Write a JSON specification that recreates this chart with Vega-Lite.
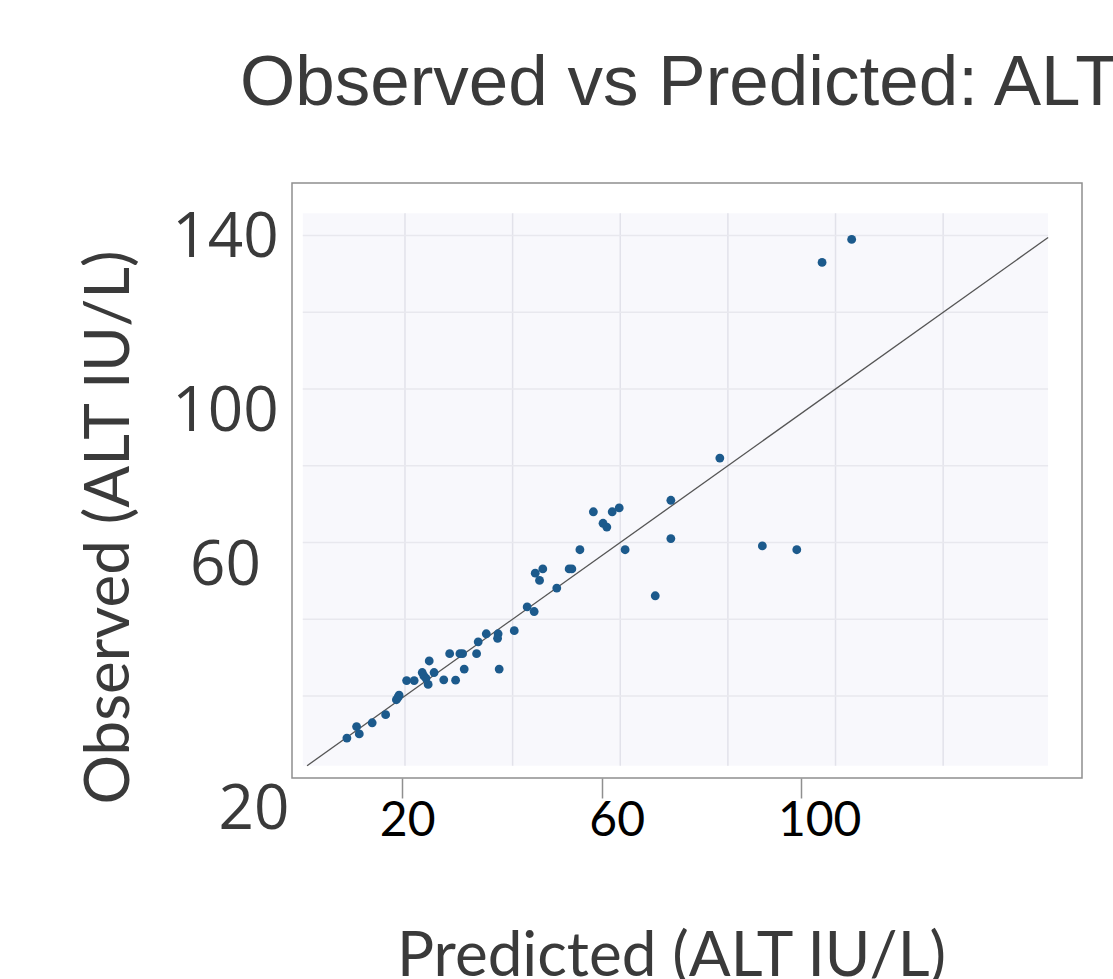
{
  "$schema": "https://vega.github.io/schema/vega-lite/v6.json",
  "width": 790,
  "height": 595,
  "autosize": {"type": "none"},
  "padding": {"left": 292, "top": 183, "right": 31, "bottom": 201},
  "background": "white",
  "config": {"view": {"stroke": "#8f8f8f", "strokeWidth": 1.5, "fill": "white"}},
  "title": {
    "text": "Observed vs Predicted: ALT",
    "anchor": "start",
    "frame": "group",
    "dx": -52,
    "font": "Liberation Sans",
    "fontSize": 71,
    "fontWeight": "normal",
    "color": "#3a3a3a",
    "baseline": "alphabetic",
    "offset": 7
  },
  "layer": [
    {
      "data": {"values": [{}]},
      "mark": {"type": "rect", "fill": "#f8f8fc"},
      "encoding": {
        "x": {"datum": 1.0, "type": "quantitative", "scale": {"domain": [-1, 145.8], "nice": false, "zero": false}, "axis": null},
        "x2": {"datum": 139.5},
        "y": {"datum": 1.8, "type": "quantitative", "scale": {"domain": [-1.4, 153.7], "nice": false, "zero": false}},
        "y2": {"datum": 145.8}
      }
    },
    {
      "data": {"values": [{"gx": 20}, {"gx": 40}, {"gx": 60}, {"gx": 80}, {"gx": 100}, {"gx": 120}]},
      "mark": {"type": "rule", "color": "#e2e2ea", "strokeWidth": 1.5},
      "encoding": {
        "x": {"field": "gx", "type": "quantitative", "scale": {"domain": [-1, 145.8], "nice": false, "zero": false}, "axis": null},
        "y": {"datum": 1.8, "type": "quantitative", "scale": {"domain": [-1.4, 153.7], "nice": false, "zero": false}},
        "y2": {"datum": 145.8}
      }
    },
    {
      "data": {"values": [{"gy": 20}, {"gy": 40}, {"gy": 60}, {"gy": 80}, {"gy": 100}, {"gy": 120}, {"gy": 140}]},
      "mark": {"type": "rule", "color": "#e8e8ee", "strokeWidth": 1.5},
      "encoding": {
        "y": {"field": "gy", "type": "quantitative", "scale": {"domain": [-1.4, 153.7], "nice": false, "zero": false}},
        "x": {"datum": 1.0, "type": "quantitative", "scale": {"domain": [-1, 145.8], "nice": false, "zero": false}, "axis": null},
        "x2": {"datum": 139.5}
      }
    },
    {
      "data": {"values": [{}]},
      "mark": {"type": "rule", "color": "#555555", "strokeWidth": 1.3},
      "encoding": {
        "x": {"datum": 1.8, "type": "quantitative", "scale": {"domain": [-1, 145.8], "nice": false, "zero": false}, "axis": null},
        "x2": {"datum": 139.5},
        "y": {"datum": 1.8, "type": "quantitative", "scale": {"domain": [-1.4, 153.7], "nice": false, "zero": false}},
        "y2": {"datum": 139.5}
      }
    },
    {
      "data": {"values": [
        {"predicted": 9.2, "observed": 9.0},
        {"predicted": 11.0, "observed": 12.0},
        {"predicted": 11.5, "observed": 10.1},
        {"predicted": 13.9, "observed": 13.0},
        {"predicted": 16.4, "observed": 15.1},
        {"predicted": 18.4, "observed": 19.0},
        {"predicted": 18.7, "observed": 19.6},
        {"predicted": 18.9, "observed": 20.2},
        {"predicted": 20.3, "observed": 24.0},
        {"predicted": 21.7, "observed": 24.0},
        {"predicted": 23.2, "observed": 26.1},
        {"predicted": 23.5, "observed": 25.2},
        {"predicted": 23.9, "observed": 24.6},
        {"predicted": 24.3, "observed": 23.0},
        {"predicted": 24.5, "observed": 29.1},
        {"predicted": 25.4, "observed": 26.1},
        {"predicted": 27.2, "observed": 24.2},
        {"predicted": 28.3, "observed": 31.0},
        {"predicted": 29.4, "observed": 24.1},
        {"predicted": 30.2, "observed": 31.0},
        {"predicted": 30.7, "observed": 31.0},
        {"predicted": 31.0, "observed": 27.0},
        {"predicted": 33.3, "observed": 31.0},
        {"predicted": 33.6, "observed": 34.1},
        {"predicted": 35.1, "observed": 36.2},
        {"predicted": 37.3, "observed": 36.2},
        {"predicted": 37.2, "observed": 35.0},
        {"predicted": 37.5, "observed": 27.0},
        {"predicted": 40.3, "observed": 37.0},
        {"predicted": 42.7, "observed": 43.2},
        {"predicted": 44.0, "observed": 42.0},
        {"predicted": 44.2, "observed": 52.0},
        {"predicted": 45.6, "observed": 53.1},
        {"predicted": 45.0, "observed": 50.1},
        {"predicted": 48.2, "observed": 48.1},
        {"predicted": 50.5, "observed": 53.1},
        {"predicted": 51.0, "observed": 53.1},
        {"predicted": 52.5, "observed": 58.1},
        {"predicted": 55.0, "observed": 68.0},
        {"predicted": 56.8, "observed": 65.0},
        {"predicted": 57.5, "observed": 64.0},
        {"predicted": 58.5, "observed": 68.0},
        {"predicted": 59.8, "observed": 69.0},
        {"predicted": 60.9, "observed": 58.1},
        {"predicted": 66.5, "observed": 46.1},
        {"predicted": 69.4, "observed": 71.0},
        {"predicted": 69.4, "observed": 61.0},
        {"predicted": 78.5, "observed": 82.0},
        {"predicted": 86.4, "observed": 59.1},
        {"predicted": 92.8, "observed": 58.1},
        {"predicted": 97.5, "observed": 133.0},
        {"predicted": 103.0, "observed": 139.0}
      ]},
      "mark": {"type": "circle", "size": 78, "color": "#1c5a8c", "opacity": 1},
      "encoding": {
        "x": {"field": "predicted", "type": "quantitative", "scale": {"domain": [-1, 145.8], "nice": false, "zero": false}, "axis": null},
        "y": {
          "field": "observed",
          "type": "quantitative",
          "scale": {"domain": [-1.4, 153.7], "nice": false, "zero": false},
          "axis": {
            "orient": "left",
            "title": "Observed (ALT IU/L)",
            "values": [20, 60, 100, 140],
            "grid": false,
            "domain": false,
            "ticks": false,
            "labelFont": "Open Sans",
            "labelFontSize": 62,
            "labelColor": "#3a3a3a",
            "labelPadding": {"condition": {"test": "datum.value == 20", "value": 74}, "value": 67},
            "labelFlush": false,
            "labelOverlap": false,
            "labelBaseline": "middle",
            "labelAlign": {"condition": {"test": "datum.value == 20", "value": "left"}, "value": "center"},
            "labelOffset": {"condition": [
              {"test": "datum.value == 20", "value": 114},
              {"test": "datum.value == 100", "value": 22},
              {"test": "datum.value == 60", "value": 23}
            ], "value": 2},
            "titleFont": "Lato",
            "titleFontSize": 62,
            "titleFontWeight": "normal",
            "titleColor": "#3a3a3a",
            "titleAngle": -90,
            "titleAlign": "center",
            "titleBaseline": "alphabetic",
            "titleX": -164,
            "titleY": 344
          }
        }
      }
    },
    {
      "data": {"values": [{"tick": 20}, {"tick": 60}, {"tick": 100}]},
      "mark": {"type": "point", "opacity": 0},
      "encoding": {
        "x": {
          "field": "tick",
          "type": "quantitative",
          "scale": {"domain": [-2.09, 156.3], "nice": false, "zero": false},
          "axis": {
            "orient": "bottom",
            "values": [20, 60, 100],
            "grid": false,
            "domain": false,
            "ticks": true,
            "tickSize": 20,
            "tickColor": "#8f8f8f",
            "tickWidth": 1.5,
            "labelFont": "Lato",
            "labelFontSize": 48,
            "labelColor": "#000000",
            "labelPadding": -1,
            "labelFlush": false,
            "labelOverlap": false,
            "labelOffset": {"condition": [
              {"test": "datum.value == 20", "value": 5},
              {"test": "datum.value == 60", "value": 15}
            ], "value": 18},
            "title": "Predicted (ALT IU/L)",
            "titleFont": "Lato",
            "titleFontSize": 62,
            "titleFontWeight": "normal",
            "titleColor": "#3a3a3a",
            "titleAlign": "center",
            "titleBaseline": "alphabetic",
            "titleX": 379,
            "titleY": 197
          }
        }
      }
    }
  ],
  "resolve": {"scale": {"x": "independent"}}
}
